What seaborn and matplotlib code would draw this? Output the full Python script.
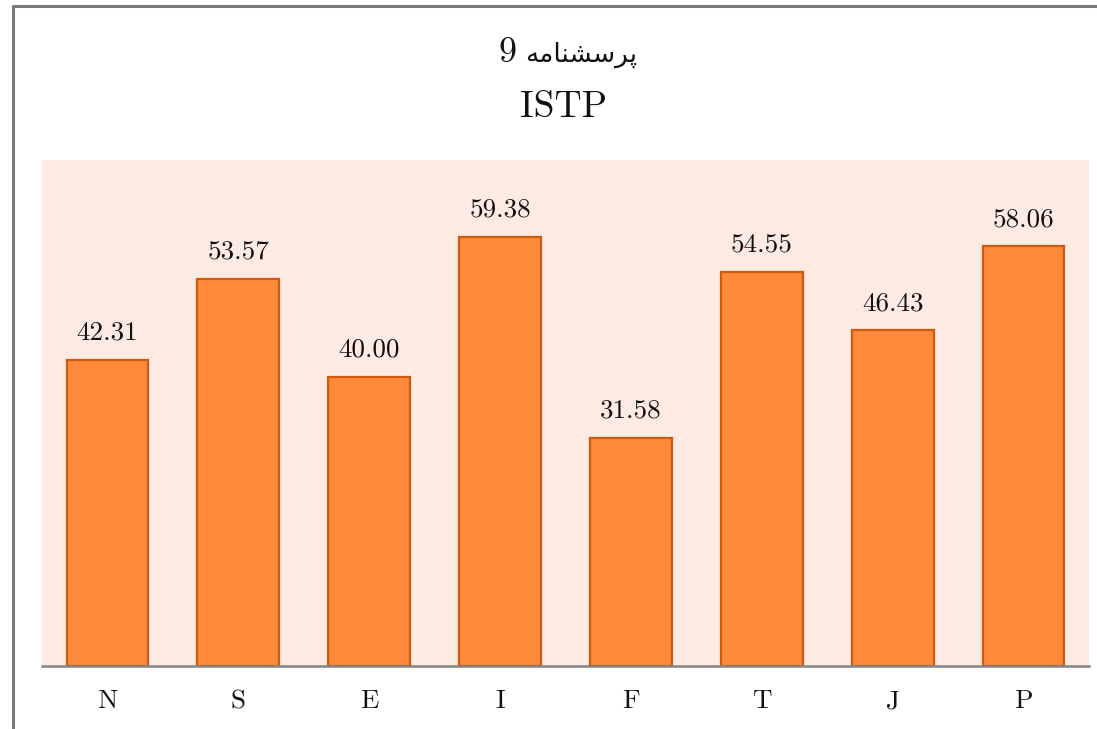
import matplotlib
matplotlib.use("Agg")
import matplotlib.pyplot as plt
import seaborn as sns
import pandas as pd
from matplotlib.lines import Line2D

categories = ["N", "S", "E", "I", "F", "T", "J", "P"]
values = [42.31, 53.57, 40.00, 59.38, 31.58, 54.55, 46.43, 58.06]
# "پرسشنامه 9" in visual order with Arabic presentation forms (matplotlib has no RTL shaping)
title_number = "9"
title_word = "\uFEEA\uFEE3\uFE8E\uFEE8\uFEB8\uFEB3\uFEAE\uFB58"
title_line2 = "ISTP"

sns.set_theme(style="white")
plt.rcParams["font.family"] = ["cmr10", "DejaVu Sans"]
plt.rcParams["axes.unicode_minus"] = False

W, H = 1097, 729
fig = plt.figure(figsize=(W / 100, H / 100), dpi=100)
ax = fig.add_axes([42 / W, 1 - 666 / H, (1089 - 42) / W, (666 - 160) / H])

df = pd.DataFrame({"cat": categories, "val": values})
sns.barplot(data=df, x="cat", y="val", ax=ax, color="#FF8A3A", saturation=1,
            edgecolor="#D0580F", linewidth=1.6, width=0.625)

ax.set_facecolor("#FDEBE3")
ax.set_ylim(0, 70)
ax.set_xlim(-0.5, len(categories) - 0.5)
ax.set_xlabel("")
ax.set_ylabel("")
ax.set_yticks([])
for s in ["top", "left", "right"]:
    ax.spines[s].set_visible(False)
ax.spines["bottom"].set_color("#858585")
ax.spines["bottom"].set_linewidth(1.8)
ax.tick_params(axis="x", length=0, pad=17, labelsize=19.5, colors="#111111")
for lab in ax.get_xticklabels():
    lab.set_family(["cmr10", "DejaVu Sans"])

for i, v in enumerate(values):
    ax.annotate(f"{v:.2f}", (i, v), xytext=(0, 11), textcoords="offset points",
                ha="center", va="bottom", fontsize=19.5, color="#111111",
                family=["cmr10", "DejaVu Sans"])

fig.text(516 / W, 1 - 62 / H, title_number, ha="right", va="baseline", fontsize=26,
         color="#111111", family=["cmr10", "DejaVu Sans"])
fig.text(525 / W, 1 - 62 / H, title_word, ha="left", va="baseline", fontsize=19,
         color="#111111", family=["DejaVu Sans"])
fig.text(0.5 + 15 / W, 1 - 117 / H, title_line2, ha="center", va="baseline", fontsize=27,
         color="#111111", family=["cmr10", "DejaVu Sans"])

# outer gray border (left and top edges visible)
fig.add_artist(Line2D([13 / W, 13 / W, 1.0], [0.0, 1 - 6 / H, 1 - 6 / H],
                      transform=fig.transFigure, color="#7A7A7A", linewidth=2.2))

fig.savefig("out.png", dpi=100)
